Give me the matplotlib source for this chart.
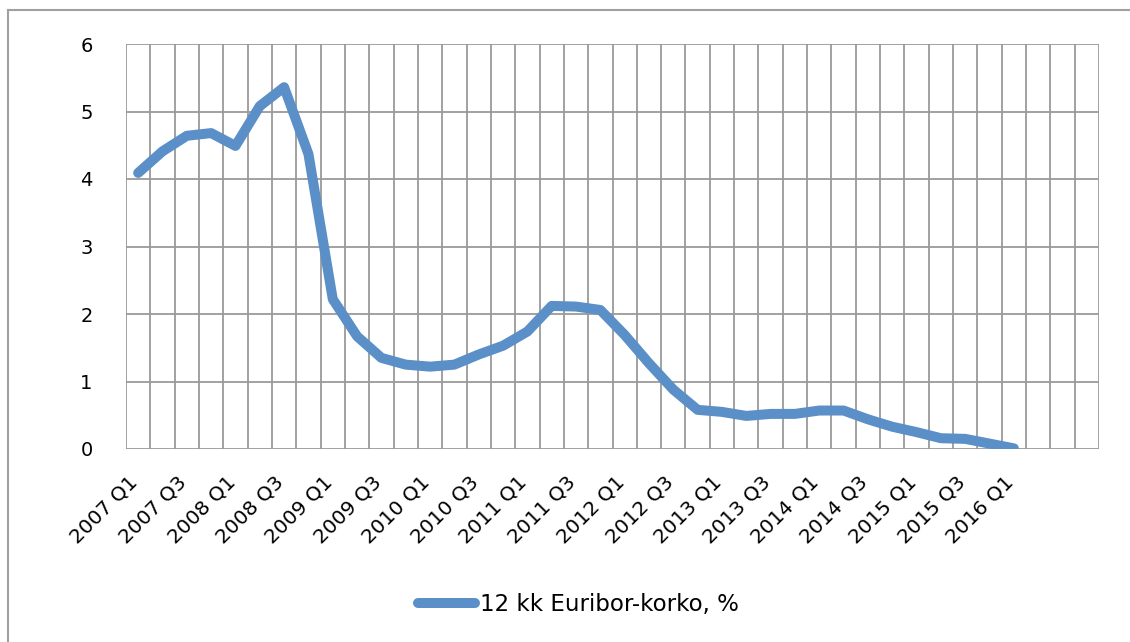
import matplotlib
matplotlib.use("Agg")
import matplotlib.pyplot as plt
from matplotlib.lines import Line2D
from matplotlib.transforms import ScaledTranslation

plt.rcParams['font.family'] = ['DejaVu Sans']

quarters = [f"{y} Q{q}" for y in range(2007, 2017) for q in range(1, 5)]
values = [4.09, 4.41, 4.64, 4.68, 4.49, 5.08, 5.36, 4.37,
          2.22, 1.67, 1.35, 1.25, 1.22, 1.25, 1.40, 1.53,
          1.74, 2.12, 2.11, 2.06, 1.69, 1.27, 0.88, 0.58,
          0.55, 0.49, 0.52, 0.52, 0.57, 0.57, 0.44, 0.33,
          0.25, 0.16, 0.15, 0.08, 0.01]
series_name = "12 kk Euribor-korko, %"
yticks = [0, 1, 2, 3, 4, 5, 6]

W, H = 1130, 642
fig = plt.figure(figsize=(W / 100, H / 100), dpi=100)
ax = fig.add_axes([126 / W, 1 - 449 / H, (1099 - 126) / W, (449 - 44) / H])

color = '#5B8FC8'
grid_c = '#9A9A9A'
n = len(quarters)
xs = list(range(len(values)))
ax.plot(xs, values, color=color, lw=7.2, solid_capstyle='round', solid_joinstyle='round', zorder=3)

ax.set_xlim(-0.5, n - 0.5)
ax.set_ylim(0, 6)
ax.set_yticks(yticks)
ax.set_yticklabels([str(v) for v in yticks], fontsize=14)
ax.tick_params(axis='y', length=0, pad=24)

# vertical grid at category boundaries
for b in range(n + 1):
    ax.axvline(b - 0.5, color=grid_c, lw=1.3, zorder=1)
for v in yticks:
    ax.axhline(v, color=grid_c, lw=1.3, zorder=1)

tick_pos = list(range(0, n, 2))
tick_labels = [quarters[i] if i < len(values) else "" for i in tick_pos]
ax.set_xticks(tick_pos)
ax.set_xticklabels(tick_labels, rotation=45, ha='right', rotation_mode='anchor', fontsize=14.5)
ax.tick_params(axis='x', length=0, pad=15)
offset = ScaledTranslation(-10 / 100, -3 / 100, fig.dpi_scale_trans)
for lab in ax.get_xticklabels():
    lab.set_transform(lab.get_transform() + offset)
for s in ax.spines.values():
    s.set_visible(False)

# outer chart border (left and top visible)
fig.add_artist(Line2D([8 / W, 8 / W], [0, 1 - 10 / H], transform=fig.transFigure, color='#A0A0A0', lw=1.5))
fig.add_artist(Line2D([8 / W, 1], [1 - 10 / H, 1 - 10 / H], transform=fig.transFigure, color='#A0A0A0', lw=1.5))

handle = Line2D([], [], color=color, lw=7.2, solid_capstyle='round')
fig.legend([handle], [series_name], loc='center', bbox_to_anchor=(578 / W, 1 - 605 / H),
           frameon=False, fontsize=16.5, handlelength=2.5, handletextpad=0.2)

fig.savefig("out.png", dpi=100)
